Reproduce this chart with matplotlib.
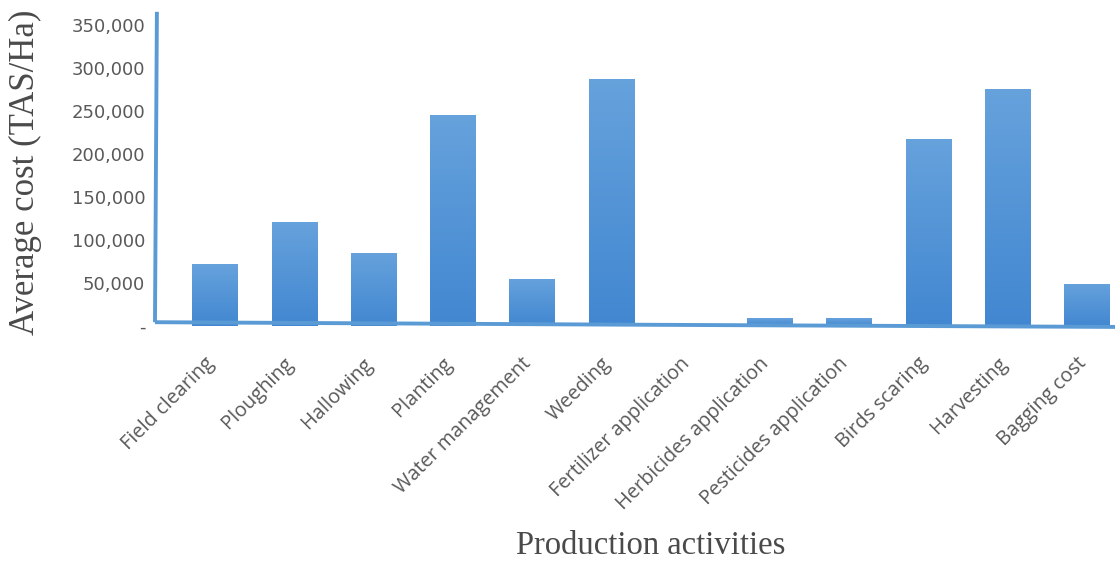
import matplotlib
matplotlib.use('Agg')
import matplotlib.pyplot as plt
import matplotlib.transforms as mtransforms
import numpy as np
from matplotlib.colors import LinearSegmentedColormap
from matplotlib.ticker import FuncFormatter

# data
activities = ['Field clearing', 'Ploughing', 'Hallowing', 'Planting', 'Water management',
              'Weeding', 'Fertilizer application', 'Herbicides application',
              'Pesticides application', 'Birds scaring', 'Harvesting', 'Bagging cost']
avg_cost = [72000, 121000, 85000, 245000, 55000, 287000, 2500, 9000, 9000, 217000, 275000, 49000]
y_ticks = [0, 50000, 100000, 150000, 200000, 250000, 300000, 350000]

LINE = '#5b9bd5'
TICK_GRAY = '#595959'
LABEL_GRAY = '#4a4a4a'

fig = plt.figure(figsize=(11.15, 5.63), dpi=100)
fig.patch.set_facecolor('white')
ax = fig.add_axes([0.139, 0.421, 0.861, 0.558])

x = np.arange(len(activities))
bars = ax.bar(x, avg_cost, width=0.58, color='#4f93d6', edgecolor='none', zorder=2)

# vertical gradient inside each bar (lighter top, darker bottom)
cmap = LinearSegmentedColormap.from_list('barfade', ['#4287d1', '#66a2dc'])
grad = np.linspace(0, 1, 256).reshape(-1, 1)
for b in bars:
    x0, y0 = b.get_x(), b.get_y()
    im = ax.imshow(grad, cmap=cmap, origin='lower', aspect='auto',
                   extent=(x0, x0 + b.get_width(), y0, y0 + b.get_height()), zorder=2)
    im.set_clip_path(b)

ax.set_xlim(-0.76, 11.35)
ax.set_ylim(0, 365000)

for s in ax.spines.values():
    s.set_visible(False)

# slightly uneven axis lines, like the hand-adjusted original
ax.plot([0.002, 0.0], [1.0, 0.012], transform=ax.transAxes, color=LINE, lw=2.8,
        clip_on=False, zorder=3, solid_capstyle='butt')
ax.plot([0.0, 0.5, 1.0], [0.012, 0.004, -0.003], transform=ax.transAxes, color=LINE,
        lw=2.8, clip_on=False, zorder=3, solid_capstyle='butt')

ax.set_yticks(y_ticks)
ax.yaxis.set_major_formatter(FuncFormatter(lambda v, p: '-' if v == 0 else f'{int(v):,}'))
ax.tick_params(axis='y', length=0, pad=7, labelsize=13, labelcolor=TICK_GRAY)
for t in ax.get_yticklabels():
    t.set_fontfamily('DejaVu Sans')

ax.set_xticks(x)
ax.set_xticklabels(activities, rotation=45, ha='right', rotation_mode='anchor',
                   fontsize=14.3, color=TICK_GRAY, fontfamily='Open Sans')
ax.tick_params(axis='x', length=0, pad=18)
shift = mtransforms.ScaledTranslation(-8 / 72, -2 / 72, fig.dpi_scale_trans)
for t in ax.get_xticklabels():
    t.set_transform(t.get_transform() + shift)

fig.text(0.023, 0.694, 'Average cost (TAS/Ha)', rotation=90, ha='center', va='center',
         fontsize=25, color=LABEL_GRAY, fontfamily='Liberation Serif')
fig.text(0.584, 0.03, 'Production activities', ha='center', va='center',
         fontsize=23.5, color=LABEL_GRAY, fontfamily='Liberation Serif')

fig.savefig('out.png', dpi=100, facecolor='white')
